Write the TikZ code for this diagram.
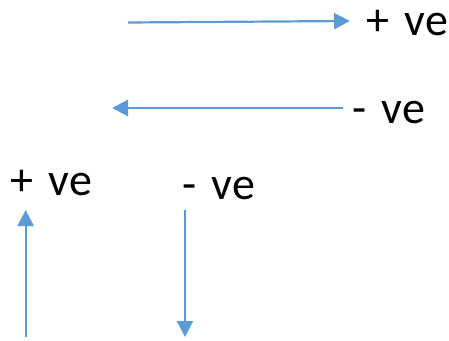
\documentclass[tikz,border=0pt]{standalone}
\usepackage{fontspec}
\setmainfont{Carlito}
\usetikzlibrary{arrows.meta}
\definecolor{arrowblue}{HTML}{5B9BD5}
\newcommand\lblfont{\fontsize{46}{55}\selectfont\setlength{\spaceskip}{0.34em}}
\begin{document}
\begin{tikzpicture}[x=1pt,y=-1pt,
  conn/.style={draw=arrowblue,line width=2.2pt,-{Triangle[length=16pt,width=16pt]},arrowblue},
  lbl/.style={inner sep=0pt,anchor=base west,font={\lblfont}}]
\useasboundingbox (0,0) rectangle (449,340);
% top arrow
\coordinate (a1s) at (128,22.5);
\coordinate (a1e) at (350,21);
\draw[conn] (a1s) -- (a1e);
\node[lbl] (l1) at (366,35) {+ ve};
% second arrow
\coordinate (a2s) at (343,108);
\coordinate (a2e) at (112,108);
\draw[conn] (a2s) -- (a2e);
\node[lbl] (l2) at (352,123) {- ve};
% left labels
\node[lbl] (l3) at (10,195) {+ ve};
\node[lbl] (l4) at (182,199) {- ve};
% vertical arrows
\coordinate (a3s) at (25.7,337);
\coordinate (a3e) at (25.7,210);
\draw[conn] (a3s) -- (a3e);
\coordinate (a4s) at (185,210);
\coordinate (a4e) at (185,337);
\draw[conn] (a4s) -- (a4e);
\end{tikzpicture}
\end{document}
